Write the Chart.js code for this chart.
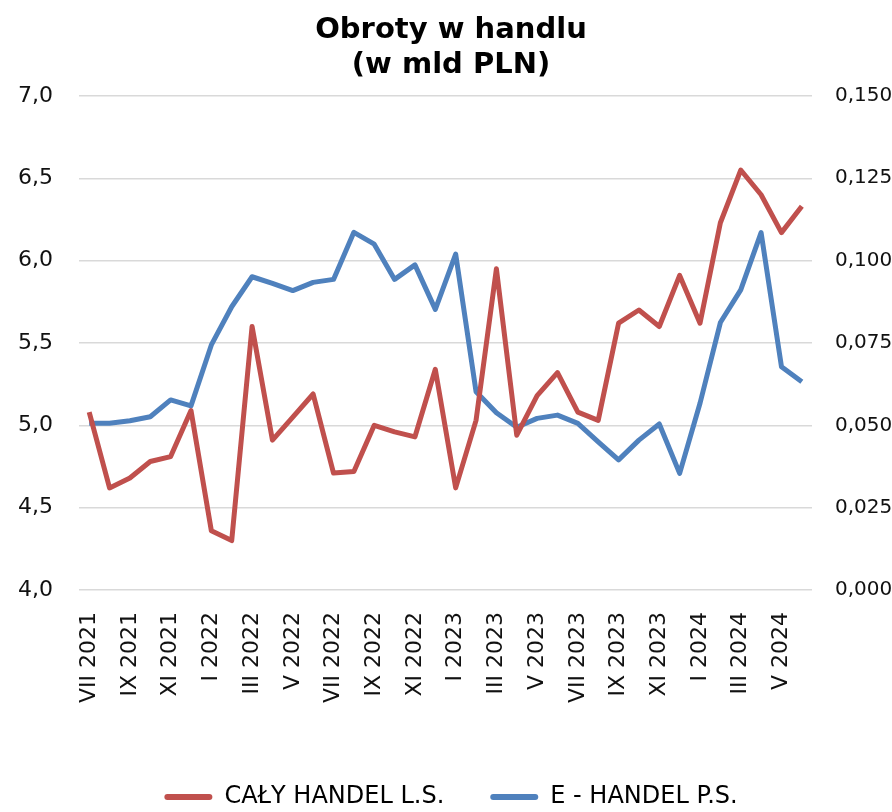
<!DOCTYPE html>
<html>
<head>
<meta charset="utf-8">
<title>Obroty w handlu</title>
<script src="https://cdn.jsdelivr.net/npm/chart.js@4/dist/chart.umd.min.js"></script>
<style>
  html, body { margin: 0; padding: 0; background: #fff; }
  #wrap { width: 892px; height: 812px; }
</style>
</head>
<body>
<div id="wrap"><canvas id="chart" width="892" height="812"></canvas></div>
<script>
// miesiace VII 2021 - VI 2024
var months = ["VII 2021", "VIII 2021", "IX 2021", "X 2021", "XI 2021", "XII 2021",
  "I 2022", "II 2022", "III 2022", "IV 2022", "V 2022", "VI 2022",
  "VII 2022", "VIII 2022", "IX 2022", "X 2022", "XI 2022", "XII 2022",
  "I 2023", "II 2023", "III 2023", "IV 2023", "V 2023", "VI 2023",
  "VII 2023", "VIII 2023", "IX 2023", "X 2023", "XI 2023", "XII 2023",
  "I 2024", "II 2024", "III 2024", "IV 2024", "V 2024", "VI 2024"];

// caly handel, mld PLN (lewa skala)
var calyHandel = [5.08, 4.62, 4.68, 4.78, 4.81, 5.09, 4.36, 4.30, 5.60, 4.91, 5.05, 5.19,
  4.71, 4.72, 5.00, 4.96, 4.93, 5.34, 4.62, 5.03, 5.95, 4.94, 5.18, 5.32,
  5.08, 5.03, 5.62, 5.70, 5.60, 5.91, 5.62, 6.23, 6.55, 6.40, 6.17, 6.33];

// e-handel, mld PLN (prawa skala)
var eHandel = [0.0506, 0.0506, 0.0514, 0.0526, 0.0577, 0.0559, 0.0744, 0.0860, 0.0951, 0.0931, 0.0909, 0.0934,
  0.0943, 0.1086, 0.1050, 0.0943, 0.0987, 0.0852, 0.1020, 0.0602, 0.0538, 0.0494, 0.0521, 0.0531,
  0.0506, 0.0450, 0.0395, 0.0455, 0.0504, 0.0354, 0.0567, 0.0812, 0.0911, 0.1085, 0.0678, 0.0632];

var seriesNames = ["CAŁY HANDEL L.S.", "E - HANDEL P.S."];
var red = "#C0504D";
var blue = "#4F81BD";
var fontName = "'DejaVu Sans', Verdana, sans-serif";

function comma(v, digits) {
  return Number(v).toFixed(digits).replace(".", ",");
}

var ctx = document.getElementById("chart").getContext("2d");
var chart = new Chart(ctx, {
  type: "line",
  data: {
    labels: months,
    datasets: [{
      label: seriesNames[0],
      data: calyHandel,
      borderColor: red,
      backgroundColor: red,
      borderWidth: 5,
      pointRadius: 0,
      tension: 0,
      borderJoinStyle: "round",
      yAxisID: "yL"
    }, {
      label: seriesNames[1],
      data: eHandel,
      borderColor: blue,
      backgroundColor: blue,
      borderWidth: 5,
      pointRadius: 0,
      tension: 0,
      borderJoinStyle: "round",
      yAxisID: "yR"
    }]
  },
  options: {
    responsive: false,
    animation: false,
    layout: { padding: { left: 10, right: 0, top: 0, bottom: 0 } },
    plugins: {
      title: {
        display: true,
        text: ["Obroty w handlu", "(w mld PLN)"],
        color: "#000",
        font: { family: fontName, size: 29, weight: "bold", lineHeight: 1.24 },
        padding: { top: 12, bottom: 12 }
      },
      legend: {
        position: "bottom",
        maxHeight: 73,
        labels: {
          color: "#111",
          font: { family: fontName, size: 24 },
          boxWidth: 48,
          boxHeight: 6,
          padding: 46,
          useBorderRadius: true,
          borderRadius: 3,
          generateLabels: function (c) {
            return c.data.datasets.map(function (ds, i) {
              return {
                text: ds.label,
                fillStyle: ds.borderColor,
                strokeStyle: ds.borderColor,
                lineWidth: 0,
                borderRadius: 3,
                datasetIndex: i,
                hidden: false
              };
            });
          }
        }
      },
      tooltip: { enabled: false }
    },
    scales: {
      x: {
        offset: true,
        grid: { display: false, drawTicks: false },
        border: { display: false },
        ticks: {
          autoSkip: false,
          maxRotation: 90,
          minRotation: 90,
          padding: 22,
          color: "#111",
          font: { family: fontName, size: 22 },
          callback: function (val, i) {
            return i % 2 === 0 ? months[i] : "";
          }
        },
        afterFit: function (s) { s.height = 149; }
      },
      yL: {
        position: "left",
        min: 4,
        max: 7,
        grid: { color: "#d9d9d9", lineWidth: 1.5, drawTicks: false },
        border: { display: false },
        ticks: {
          stepSize: 0.5,
          padding: 26,
          color: "#111",
          font: { family: fontName, size: 22 },
          callback: function (v) { return comma(v, 1); }
        },
        afterFit: function (s) { s.width = 69; }
      },
      yR: {
        position: "right",
        min: 0,
        max: 0.15,
        grid: { drawOnChartArea: false, drawTicks: false },
        border: { display: false },
        ticks: {
          stepSize: 0.025,
          padding: 23,
          color: "#111",
          font: { family: fontName, size: 20 },
          callback: function (v) { return comma(v, 3); }
        },
        afterFit: function (s) { s.width = 80; }
      }
    }
  }
});
</script>
</body>
</html>
